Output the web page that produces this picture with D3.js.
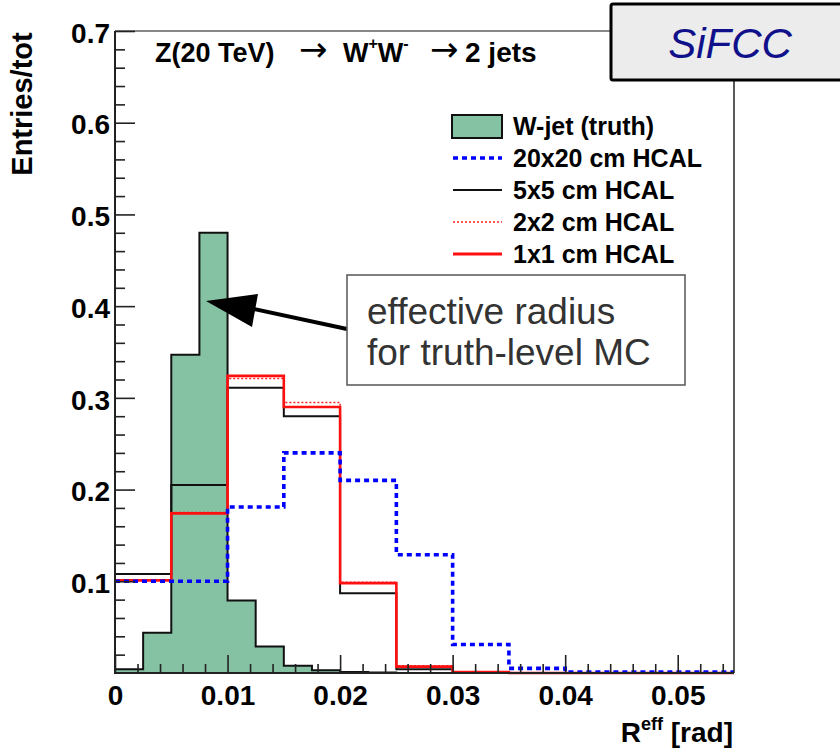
<!DOCTYPE html>
<html><head><meta charset="utf-8">
<script src="https://cdn.jsdelivr.net/npm/d3@7"></script>
<style>body{margin:0;background:#fff} svg{display:block;font-family:"Liberation Sans",Arial,Helvetica,sans-serif}</style>
</head><body>
<script>
// ---- data ----
const truthBinWidth = 0.0025;
const recoBinWidth = 0.005;
const wjetTruth = [0.004,0.044,0.347,0.480,0.079,0.029,0.008,0.003,0.001,0.0005,0,0,0,0,0,0,0,0,0,0,0,0];
const hcal20x20 = [0.100,0.100,0.181,0.240,0.210,0.129,0.031,0.005,0.001,0.001,0.001];
const hcal5x5   = [0.108,0.205,0.311,0.280,0.087,0.004,0.001,0,0,0,0];
const hcal2x2   = [0.101,0.175,0.321,0.295,0.099,0.008,0.001,0,0,0,0];
const hcal1x1   = [0.101,0.174,0.324,0.290,0.098,0.007,0.001,0,0,0,0];
const legendLabels = ["W-jet (truth)","20x20 cm HCAL","5x5 cm HCAL","2x2 cm HCAL","1x1 cm HCAL"];
const yTicks = [0.1,0.2,0.3,0.4,0.5,0.6,0.7];
const xTicks = [0,0.01,0.02,0.03,0.04,0.05];
const yMinor = d3.range(0.02,0.70,0.02).filter(v=>Math.abs(v*10-Math.round(v*10))>1e-6);
const xMinor = d3.range(0.002,0.055,0.002).filter(v=>Math.abs(v*100-Math.round(v*100))>1e-6);

const W=840,H=748;
const L=115,R=734,T=31,B=673;
const svg=d3.select("body").append("svg").attr("width",W).attr("height",H);
const x=d3.scaleLinear().domain([0,0.055]).range([L,R]);
const y=d3.scaleLinear().domain([0,0.7]).range([B,T]);

function stepPts(vals,w){const p=vals.map((v,i)=>[i*w,v]);p.push([vals.length*w,vals[vals.length-1]]);return p;}

// truth filled histogram
const area=d3.area().curve(d3.curveStepAfter).x(d=>x(d[0])).y0(y(0)).y1(d=>y(d[1]));
svg.append("path").attr("d",area(stepPts(wjetTruth,truthBinWidth)))
  .attr("fill","#85c1a3").attr("stroke","#111").attr("stroke-width",2);

const line=d3.line().curve(d3.curveStepAfter).x(d=>x(d[0])).y(d=>y(d[1]));
const series=[
  {vals:hcal5x5,stroke:"#111",w:2,dash:null},
  {vals:hcal2x2,stroke:"#ff2020",w:1.5,dash:"2,2"},
  {vals:hcal1x1,stroke:"#ff1010",w:2.6,dash:null},
  {vals:hcal20x20,stroke:"#0000ff",w:3.6,dash:"5,4"}
];
series.forEach(s=>{
  svg.append("path").attr("d",line(stepPts(s.vals,recoBinWidth)))
    .attr("fill","none").attr("stroke",s.stroke).attr("stroke-width",s.w)
    .attr("stroke-dasharray",s.dash);
});

// frame
svg.append("line").attr("x1",L).attr("x2",R).attr("y1",T).attr("y2",T).attr("stroke","#888").attr("stroke-width",2);
svg.append("line").attr("x1",R).attr("x2",R).attr("y1",T).attr("y2",B).attr("stroke","#222").attr("stroke-width",1.5);
svg.append("line").attr("x1",L).attr("x2",L).attr("y1",T).attr("y2",B).attr("stroke","#222").attr("stroke-width",2);
svg.append("line").attr("x1",L).attr("x2",R).attr("y1",B).attr("y2",B).attr("stroke","#222").attr("stroke-width",2);

// axes
const yAx=svg.append("g").attr("transform",`translate(${L},0)`)
  .call(d3.axisLeft(y).tickValues(yTicks).tickSize(-20).tickPadding(5).tickFormat(d3.format(".1f")));
svg.append("g").attr("transform",`translate(${L},0)`)
  .call(d3.axisLeft(y).tickValues(yMinor).tickSize(-10).tickFormat(""));
const xAx=svg.append("g").attr("transform",`translate(0,${B})`)
  .call(d3.axisBottom(x).tickValues(xTicks).tickSize(-18).tickPadding(12).tickFormat(d=>d===0?"0":d3.format(".2f")(d)));
svg.append("g").attr("transform",`translate(0,${B})`)
  .call(d3.axisBottom(x).tickValues(xMinor).tickSize(-9).tickFormat(""));
svg.selectAll(".domain").remove();
svg.selectAll(".tick line").attr("stroke","#222").attr("stroke-width",1.6);
svg.selectAll(".tick text").attr("font-size",28).attr("font-weight","bold").attr("fill","#000")
  .attr("font-family","Liberation Sans, Arial, sans-serif");
yAx.selectAll(".tick text").attr("dy","0.40em");

// axis titles
svg.append("text").attr("transform","translate(32,104) rotate(-90)").attr("text-anchor","middle")
  .attr("font-size",29).attr("font-weight","bold").text("Entries/tot");
const xt=svg.append("text").attr("x",733).attr("y",742).attr("text-anchor","end")
  .attr("font-size",28).attr("font-weight","bold");
xt.append("tspan").text("R");
xt.append("tspan").attr("font-size",18).attr("dy",-12).text("eff");
xt.append("tspan").attr("dy",12).text(" [rad]");

// title
const tf={size:27};
svg.append("text").attr("x",155).attr("y",62).attr("font-size",tf.size).attr("font-weight","bold").text("Z(20 TeV)");
svg.append("text").attr("x",299).attr("y",61).attr("font-size",34).attr("font-family","DejaVu Sans").text("→");
const ww=svg.append("text").attr("x",343).attr("y",62).attr("font-size",tf.size).attr("font-weight","bold");
ww.append("tspan").text("W");
ww.append("tspan").attr("font-size",16).attr("dy",-13).text("+");
ww.append("tspan").attr("dy",13).text("W");
ww.append("tspan").attr("font-size",16).attr("dy",-13).text("-");
svg.append("text").attr("x",430).attr("y",61).attr("font-size",34).attr("font-family","DejaVu Sans").text("→");
svg.append("text").attr("x",465).attr("y",62).attr("font-size",28).attr("font-weight","bold").text("2 jets");

// legend
const lg=svg.append("g");
const rows=[126,158,190,222,254];
lg.append("rect").attr("x",452).attr("y",115).attr("width",50).attr("height",23)
  .attr("fill","#85c1a3").attr("stroke","#111").attr("stroke-width",2);
const lstyles=[null,{stroke:"#0000ff",w:3.6,dash:"5,4"},{stroke:"#111",w:2,dash:null},{stroke:"#ff2020",w:1.5,dash:"2,2"},{stroke:"#ff1010",w:2.8,dash:null}];
legendLabels.forEach((lab,i)=>{
  if(lstyles[i]) lg.append("line").attr("x1",453).attr("x2",502).attr("y1",rows[i]).attr("y2",rows[i])
    .attr("stroke",lstyles[i].stroke).attr("stroke-width",lstyles[i].w).attr("stroke-dasharray",lstyles[i].dash);
  lg.append("text").attr("x",513).attr("y",rows[i]+9).attr("font-size",25).attr("font-weight","bold").text(lab);
});

// annotation arrow + box
svg.append("line").attr("x1",347).attr("y1",329).attr("x2",240).attr("y2",306).attr("stroke","#000").attr("stroke-width",4);
svg.append("path").attr("d","M206,301 L258,294 L252,327 Z").attr("fill","#000");
svg.append("rect").attr("x",347).attr("y",275).attr("width",338).attr("height",110)
  .attr("fill","#fff").attr("stroke","#555").attr("stroke-width",1.5);
const at=svg.append("text").attr("font-size",37).attr("fill","#333");
at.append("tspan").attr("x",367).attr("y",324).text("effective radius");
at.append("tspan").attr("x",367).attr("y",365).text("for truth-level MC");

// SiFCC box
svg.append("rect").attr("x",611).attr("y",4).attr("width",240).attr("height",76).attr("rx",2)
  .attr("fill","#ececec").attr("stroke","#000").attr("stroke-width",3);
svg.append("text").attr("x",730).attr("y",58).attr("text-anchor","middle").attr("font-size",42)
  .attr("font-style","italic").attr("fill","#10108a").text("SiFCC");
</script>
</body></html>
